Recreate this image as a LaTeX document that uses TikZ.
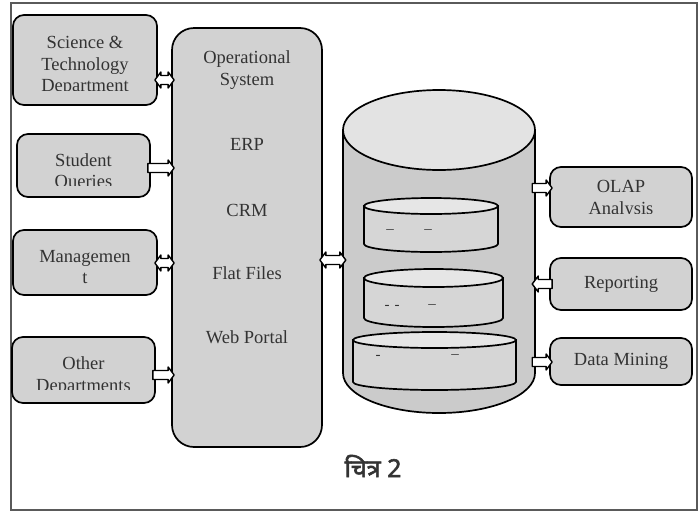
\documentclass[tikz,border=0pt]{standalone}
\usepackage{fontspec}
\setmainfont{Liberation Serif}
\newfontfamily\hindifont[Script=Devanagari, AutoFakeBold=2.2]{Noto Sans}
\usetikzlibrary{calc}
\definecolor{boxgray}{HTML}{D2D2D2}
\definecolor{cylbody}{HTML}{CBCBCB}
\definecolor{cyltop}{HTML}{E3E3E3}
\definecolor{innerbody}{HTML}{D6D6D6}
\definecolor{innertop}{HTML}{E6E6E6}
\definecolor{txtc}{HTML}{333333}
\definecolor{framec}{HTML}{5A5A5A}
\begin{document}
\begin{tikzpicture}[x=1pt,y=1pt,
  box/.style={draw=black, line width=1.7pt, fill=boxgray, rounded corners=11pt,
    align=center, text=txtc, inner sep=2pt,
    font=\fontsize{18.5}{21.5}\selectfont},
  lbl/.style={align=center, text=txtc, inner sep=0pt, font=\fontsize{18.5}{21.5}\selectfont},
  dmark/.style={text=black!80, font=\fontsize{15}{15}\selectfont, inner sep=0pt},
  cylline/.style={draw=black, line width=1.7pt},
  arr/.style={draw=black, line width=1.4pt, fill=white, line join=round},
  sarrow/.style={arr, to path={
    let \p1=($(\tikztostart)!-3pt!(\tikztotarget)$),
        \p2=($(\tikztotarget)!-3pt!(\tikztostart)$),
        \p3=($(\p2)!6pt!(\p1)$)
    in (\x1,{\y1+4.5pt}) -- (\x3,{\y1+4.5pt}) -- (\x3,{\y1+8pt}) -- (\x2,\y1)
       -- (\x3,{\y1-8pt}) -- (\x3,{\y1-4.5pt}) -- (\x1,{\y1-4.5pt}) -- cycle}},
  darrow/.style={arr, to path={
    let \p1=($(\tikztostart)!-3pt!(\tikztotarget)$),
        \p2=($(\tikztotarget)!-3pt!(\tikztostart)$),
        \p3=($(\p2)!6pt!(\p1)$),
        \p4=($(\p1)!6pt!(\p2)$)
    in (\x1,\y1) -- (\x4,{\y1+8pt}) -- (\x4,{\y1+4.5pt}) -- (\x3,{\y1+4.5pt})
       -- (\x3,{\y1+8pt}) -- (\x2,\y1) -- (\x3,{\y1-8pt}) -- (\x3,{\y1-4.5pt})
       -- (\x4,{\y1-4.5pt}) -- (\x4,{\y1-8pt}) -- cycle}}
]
\useasboundingbox (0,0) rectangle (700,-512);
\fill[white] (0,0) rectangle (700,-512);
\draw[framec, line width=1.3pt] (11,-3) rectangle (697,-510);

% left boxes
\node[box, minimum width=144pt, minimum height=90pt] (sci) at (85,-60) {};
\node[box, minimum width=133pt, minimum height=63pt] (stu) at (83.5,-165.5) {};
\node[box, minimum width=144pt, minimum height=65pt] (mgt) at (85,-262.5) {};
\node[box, minimum width=143pt, minimum height=66pt] (oth) at (83.5,-370) {};
\begin{scope}
  \clip (sci.north west) rectangle (sci.east |- 0,-90);
  \node[lbl] (scit) at (85,-66) {Science \&\\Technology\\Department};
\end{scope}
\begin{scope}
  \clip (stu.north west) rectangle (stu.east |- 0,-185);
  \node[lbl] (stut) at (83.5,-172) {Student\\Queries};
\end{scope}
\node[lbl] (mgtt) at (85,-267) {Managemen\\t};
\begin{scope}
  \clip (oth.north west) rectangle (oth.east |- 0,-389.5);
  \node[lbl] (otht) at (83.5,-376) {Other\\Departments};
\end{scope}

% operational system
\node[box, rounded corners=22pt, minimum width=150pt, minimum height=419pt] (op) at (247,-237.5) {};
\node[lbl] (opt) at (247,-70) {Operational\\System};
\node[lbl] (erp) at (247,-144) {ERP};
\node[lbl] (crm) at (247,-210) {CRM};
\node[lbl] (ff) at (247,-273) {Flat Files};
\node[lbl] (wp) at (247,-337) {Web Portal};

% data warehouse cylinder
\node[minimum width=192pt, minimum height=323pt, inner sep=0pt] (dw) at (439,-251.5) {};
\draw[cylline, fill=cylbody] (343,-130) -- (343,-373) arc[start angle=180,end angle=360,x radius=96,y radius=40] -- (535,-130) -- cycle;
\draw[cylline, fill=cyltop] (439,-130) ellipse[x radius=96, y radius=40];

\draw[cylline, fill=innerbody] (364,-206) -- (364,-244) arc[start angle=180,end angle=360,x radius=67,y radius=8] -- (498,-206) -- cycle;
\draw[cylline, fill=innertop] (431,-206) ellipse[x radius=67, y radius=8];
\draw[cylline, fill=innerbody] (364,-278) -- (364,-318) arc[start angle=180,end angle=360,x radius=69.5,y radius=9] -- (503,-278) -- cycle;
\draw[cylline, fill=innertop] (433.5,-278) ellipse[x radius=69.5, y radius=9];
\draw[cylline, fill=innerbody] (353,-340) -- (353,-382) arc[start angle=180,end angle=360,x radius=81.5,y radius=8] -- (516,-340) -- cycle;
\draw[cylline, fill=innertop] (434.5,-340) ellipse[x radius=81.5, y radius=8];

\node[dmark] (d1) at (390,-232) {--};
\node[dmark] (d2) at (428,-232) {--};
\node[dmark] (d3) at (392,-307) {-\,\,-};
\node[dmark] (d4) at (432,-307) {--};
\node[dmark] (d5) at (378,-357) {-};
\node[dmark] (d6) at (455,-357) {--};

% right boxes
\node[box, minimum width=142pt, minimum height=60pt] (olap) at (621,-197) {};
\begin{scope}
  \clip (olap.north west) rectangle (olap.east |- 0,-213);
  \node[lbl] (olapt) at (621,-199.5) {OLAP\\Analysis};
\end{scope}
\node[box, minimum width=142pt, minimum height=52pt] (rep) at (621,-284) {Reporting};
\node[box, minimum width=142pt, minimum height=47pt] (dm) at (621,-361.5) {Data Mining};

% block arrows
\draw[darrow] (sci.east |- 0,-80) to (op.west |- 0,-80);
\draw[sarrow] (stu.east |- 0,-168) to (op.west |- 0,-168);
\draw[darrow] (mgt.east |- 0,-263) to (op.west |- 0,-263);
\draw[sarrow] (oth.east |- 0,-375) to (op.west |- 0,-375);
\draw[darrow] (op.east |- 0,-260) to (dw.west |- 0,-260);
\draw[sarrow] (dw.east |- 0,-188) to (olap.west |- 0,-188);
\draw[sarrow] (rep.west |- 0,-284) to (dw.east |- 0,-284);
\draw[sarrow] (dw.east |- 0,-362) to (dm.west |- 0,-362);

% caption
\node[text=txtc, font=\hindifont\bfseries\fontsize{25}{28}\selectfont] (cap) at (373,-466) {चित्र 2};
\end{tikzpicture}
\end{document}
